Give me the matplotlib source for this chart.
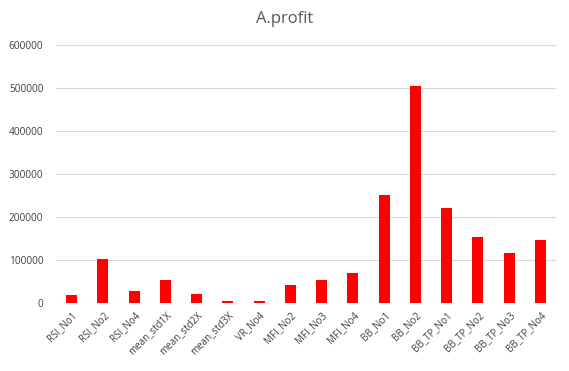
import matplotlib.pyplot as plt
import numpy as np

# data
strategies = ['RSI_No1', 'RSI_No2', 'RSI_No4', 'mean_std1X', 'mean_std2X', 'mean_std3X',
              'VR_No4', 'MFI_No2', 'MFI_No3', 'MFI_No4', 'BB_No1', 'BB_No2',
              'BB_TP_No1', 'BB_TP_No2', 'BB_TP_No3', 'BB_TP_No4']
profit = [19000, 102000, 28500, 54000, 21500, 5000,
          5000, 42500, 54000, 70500, 251000, 505000,
          221000, 153500, 117000, 146500]
yticks = [0, 100000, 200000, 300000, 400000, 500000, 600000]

plt.rcParams['font.family'] = ['Open Sans', 'DejaVu Sans']

fig = plt.figure(figsize=(5.69, 3.71), dpi=100)
ax = fig.add_axes([0.0984, 0.1833, 0.8787, 0.6954])

x = np.arange(len(strategies))
ax.bar(x, profit, width=0.35, color='#ff0000', zorder=3)

ax.set_xlim(-0.5, len(strategies) - 0.5)
ax.set_ylim(0, 600000)
ax.set_yticks(yticks)
ax.set_yticklabels([str(v) for v in yticks], fontsize=7.3, color='#404040')
ax.set_xticks(x)
ax.set_xticklabels(strategies, rotation=45, ha='right', rotation_mode='anchor',
                   fontsize=7, color='#404040')
ax.tick_params(axis='y', length=0, pad=9)
ax.tick_params(axis='x', length=0, pad=5)

ax.grid(axis='y', color='#d9d9d9', linewidth=0.8, zorder=0)
for s in ax.spines.values():
    s.set_visible(False)

fig.text(0.5, 0.95, 'A.profit', ha='center', va='center', fontsize=12, color='#595959')

fig.savefig('out.png', dpi=100, facecolor='white')
